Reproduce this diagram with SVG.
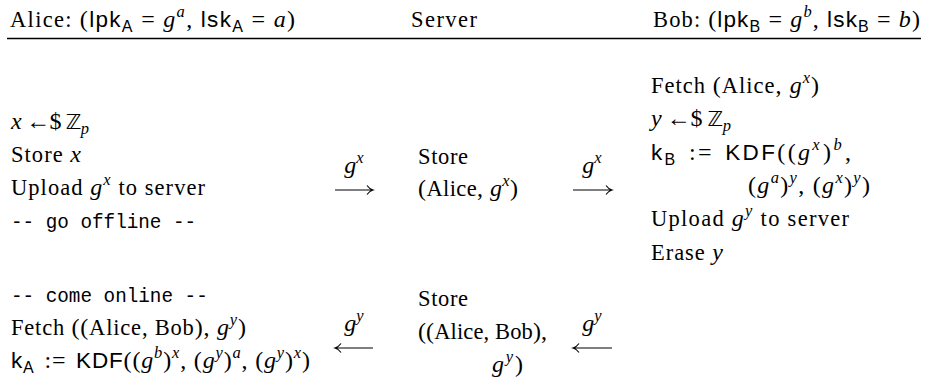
<svg xmlns="http://www.w3.org/2000/svg" width="926" height="384" viewBox="0 0 926 384">
<style>
text{font-family:"Liberation Serif",serif;font-size:22.5px;fill:#000}
.i{font-style:italic;font-size:24px}
.o{font-size:24px}
.s{font-family:"Liberation Sans",sans-serif;font-size:22.5px;font-style:normal}
.m{font-family:"Liberation Mono",monospace;font-size:19.3px}
.bb{font-family:"DejaVu Sans",sans-serif;font-size:21px}
.sc{font-size:16.5px;font-style:italic}
.ss{font-family:"Liberation Sans",sans-serif;font-size:16px}
.arr{fill:none;stroke:#000;stroke-width:1.1}
.rule{stroke:#000;stroke-width:1.3}
</style>
<rect width="926" height="384" fill="#fff"/>
<g id="header">
<text x="10" y="27" textLength="285">Alice: <tspan class="o">(</tspan><tspan class="s">lpk</tspan><tspan class="ss" dy="4.5">A</tspan><tspan class="o" dy="-4.5"> = </tspan><tspan class="i">g</tspan><tspan class="sc" dy="-10">a</tspan><tspan class="o" dy="10">, </tspan><tspan class="s">lsk</tspan><tspan class="ss" dy="4.5">A</tspan><tspan class="o" dy="-4.5"> = </tspan><tspan class="i">a</tspan><tspan class="o">)</tspan></text>
<text x="411" y="27" textLength="66">Server</text>
<text x="653" y="27" textLength="267">Bob: <tspan class="o">(</tspan><tspan class="s">lpk</tspan><tspan class="ss" dy="4.5">B</tspan><tspan class="o" dy="-4.5"> = </tspan><tspan class="i">g</tspan><tspan class="sc" dy="-10">b</tspan><tspan class="o" dy="10">, </tspan><tspan class="s">lsk</tspan><tspan class="ss" dy="4.5">B</tspan><tspan class="o" dy="-4.5"> = </tspan><tspan class="i">b</tspan><tspan class="o">)</tspan></text>
<line class="rule" x1="7" y1="38.5" x2="921" y2="38.5"/>
</g>
<g id="alice-upload">
<text x="11" y="129" textLength="78"><tspan class="i">x</tspan><tspan class="o"> ←$ </tspan><tspan class="bb">ℤ</tspan><tspan class="sc" dy="4.5">p</tspan></text>
<text x="11" y="162" textLength="70">Store <tspan class="i">x</tspan></text>
<text x="11" y="195" textLength="194">Upload <tspan class="i">g</tspan><tspan class="sc" dy="-10">x</tspan><tspan dy="10"> to server</tspan></text>
<text class="m" x="11" y="228">-- go offline --</text>
</g>
<g id="server-store-upload">
<text x="418" y="164" textLength="50">Store</text>
<text x="418" y="196" textLength="100"><tspan class="o">(</tspan>Alice<tspan class="o">, </tspan><tspan class="i">g</tspan><tspan class="sc" dy="-10">x</tspan><tspan class="o" dy="10">)</tspan></text>
</g>
<g id="bob">
<text x="651" y="93" textLength="168">Fetch <tspan class="o">(</tspan>Alice<tspan class="o">, </tspan><tspan class="i">g</tspan><tspan class="sc" dy="-10">x</tspan><tspan class="o" dy="10">)</tspan></text>
<text x="651" y="126" textLength="80"><tspan class="i">y</tspan><tspan class="o"> ←$ </tspan><tspan class="bb">ℤ</tspan><tspan class="sc" dy="4.5">p</tspan></text>
<text x="651" y="160" textLength="200"><tspan class="s">k</tspan><tspan class="ss" dy="4.5">B</tspan><tspan class="o" dy="-4.5" dx="3"> := </tspan><tspan class="s" dx="3">KDF</tspan><tspan class="o">((</tspan><tspan class="i">g</tspan><tspan class="sc" dy="-10">x</tspan><tspan class="o" dy="10" dx="1">)</tspan><tspan class="sc" dy="-10">b</tspan><tspan class="o" dy="10" dx="1">,</tspan></text>
<text x="748" y="193" textLength="122"><tspan class="o">(</tspan><tspan class="i">g</tspan><tspan class="sc" dy="-10">a</tspan><tspan class="o" dy="10">)</tspan><tspan class="sc" dy="-10">y</tspan><tspan class="o" dy="10">, (</tspan><tspan class="i">g</tspan><tspan class="sc" dy="-10">x</tspan><tspan class="o" dy="10">)</tspan><tspan class="sc" dy="-10">y</tspan><tspan class="o" dy="10">)</tspan></text>
<text x="651" y="226" textLength="198">Upload <tspan class="i">g</tspan><tspan class="sc" dy="-10">y</tspan><tspan dy="10"> to server</tspan></text>
<text x="651" y="260" textLength="72">Erase <tspan class="i">y</tspan></text>
</g>
<g id="alice-fetch">
<text class="m" x="11" y="302">-- come online --</text>
<text x="11" y="335" textLength="235">Fetch <tspan class="o">((</tspan>Alice, Bob<tspan class="o">), </tspan><tspan class="i">g</tspan><tspan class="sc" dy="-10">y</tspan><tspan class="o" dy="10">)</tspan></text>
<text x="11" y="368" textLength="299"><tspan class="s">k</tspan><tspan class="ss" dy="4.5">A</tspan><tspan class="o" dy="-4.5" dx="3"> := </tspan><tspan class="s" dx="3">KDF</tspan><tspan class="o">((</tspan><tspan class="i">g</tspan><tspan class="sc" dy="-10">b</tspan><tspan class="o" dy="10">)</tspan><tspan class="sc" dy="-10">x</tspan><tspan class="o" dy="10">, (</tspan><tspan class="i">g</tspan><tspan class="sc" dy="-10">y</tspan><tspan class="o" dy="10">)</tspan><tspan class="sc" dy="-10">a</tspan><tspan class="o" dy="10">, (</tspan><tspan class="i">g</tspan><tspan class="sc" dy="-10">y</tspan><tspan class="o" dy="10">)</tspan><tspan class="sc" dy="-10">x</tspan><tspan class="o" dy="10">)</tspan></text>
</g>
<g id="server-store-response">
<text x="418" y="306" textLength="50">Store</text>
<text x="418" y="339" textLength="129"><tspan class="o">((</tspan>Alice, Bob<tspan class="o">),</tspan></text>
<text x="492" y="372" textLength="31"><tspan class="i">g</tspan><tspan class="sc" dy="-10">y</tspan><tspan class="o" dy="10">)</tspan></text>
</g>
<g id="connectors">
<path class="arr" d="M335,190 H373 M367,185.5 Q369.5,189 373,190 Q369.5,191 367,194.5"/>
<path class="arr" d="M573,190 H612 M606,185.5 Q608.5,189 612,190 Q608.5,191 606,194.5"/>
<path class="arr" d="M373,348 H335 M341,343.5 Q338.5,347 335,348 Q338.5,349 341,352.5"/>
<path class="arr" d="M612,348 H573 M579,343.5 Q576.5,347 573,348 Q576.5,349 579,352.5"/>
<text x="354" y="173" text-anchor="middle"><tspan class="i">g</tspan><tspan class="sc" dy="-10">x</tspan></text>
<text x="592" y="173" text-anchor="middle"><tspan class="i">g</tspan><tspan class="sc" dy="-10">x</tspan></text>
<text x="354" y="331" text-anchor="middle"><tspan class="i">g</tspan><tspan class="sc" dy="-10">y</tspan></text>
<text x="592" y="331" text-anchor="middle"><tspan class="i">g</tspan><tspan class="sc" dy="-10">y</tspan></text>
</g>
</svg>
